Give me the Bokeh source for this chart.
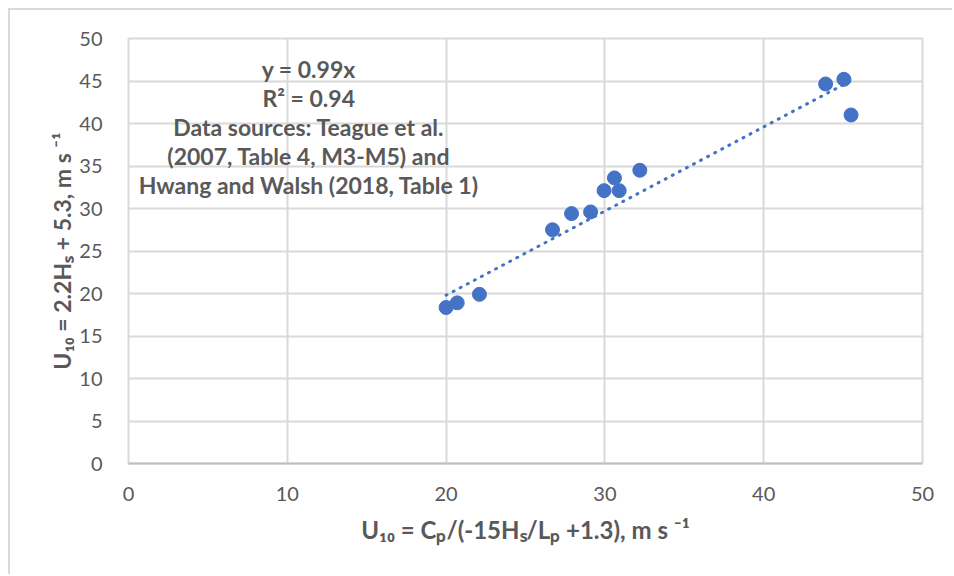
from bokeh.plotting import figure
from bokeh.models import Range1d, FixedTicker, ColumnDataSource
from bokeh.core.properties import value
from bokeh.embed import file_html
from bokeh.resources import INLINE

# Data
x_wave = [20.0, 20.7, 22.1, 26.7, 27.9, 29.1, 29.95, 30.6, 30.9, 32.2, 43.9, 45.05, 45.5]
y_hs = [18.35, 18.9, 19.9, 27.5, 29.4, 29.6, 32.1, 33.6, 32.1, 34.5, 44.65, 45.2, 41.0]
trend_slope = 0.99
x_ticks = [0, 10, 20, 30, 40, 50]
y_ticks = [0, 5, 10, 15, 20, 25, 30, 35, 40, 45, 50]
note_lines = ["y = 0.99x", "R\u00b2 = 0.94", "Data sources: Teague et al.",
              "(2007, Table 4, M3-M5) and", "Hwang and Walsh (2018, Table 1)"]
x_title = "U\u2081\u2080 = C\u209a/(-15H\u209b/L\u209a +1.3), m s \u207b\u00b9"
y_title = "U\u2081\u2080 = 2.2H\u209b + 5.3, m s \u207b\u00b9"

BLUE = "#4472C4"
GREY_TXT = "#595959"
GRID = "#d9d9d9"
FONT = "Lato"

p = figure(width=944, height=566, output_backend="svg", toolbar_location=None,
           x_range=Range1d(0, 50), y_range=Range1d(0, 50),
           min_border_left=118, min_border_right=32, min_border_top=28, min_border_bottom=113)
p.margin = (8, 0, 0, 8)
p.styles = {"border-left": "2px solid #d9d9d9", "border-top": "2px solid #d9d9d9"}
p.background_fill_color = "white"
p.border_fill_color = "white"
p.outline_line_color = GRID
p.outline_line_width = 2

for g in (p.xgrid, p.ygrid):
    g.grid_line_color = GRID
    g.grid_line_width = 2
p.xaxis.ticker = FixedTicker(ticks=x_ticks)
p.yaxis.ticker = FixedTicker(ticks=y_ticks)
p.xgrid.ticker = FixedTicker(ticks=x_ticks)
p.ygrid.ticker = FixedTicker(ticks=y_ticks)

for ax in (p.xaxis, p.yaxis):
    ax.axis_line_color = None
    ax.major_tick_line_color = None
    ax.minor_tick_line_color = None
    ax.major_label_text_font = FONT
    ax.major_label_text_font_size = "20px"
    ax.major_label_text_color = GREY_TXT
    ax.axis_label_text_font = FONT
    ax.axis_label_text_font_style = "bold"
    ax.axis_label_text_color = GREY_TXT
p.xaxis.axis_label_text_font_size = "24px"
p.yaxis.axis_label_text_font_size = "23px"
p.xaxis.axis_line_color = "#bfbfbf"
p.xaxis.axis_line_width = 2
p.xaxis.major_label_standoff = 17
p.yaxis.major_label_standoff = 20
p.xaxis.axis_label = x_title
p.yaxis.axis_label = y_title
p.xaxis.axis_label_standoff = 11
p.yaxis.axis_label_standoff = 0

# Trendline through origin over the data's x range
tx = [min(x_wave), max(x_wave)]
ty = [trend_slope * v for v in tx]
p.line(tx, ty, line_color=BLUE, line_width=3, line_dash="1 7", line_cap="round")

p.scatter(x_wave, y_hs, size=14, fill_color=BLUE, line_color=BLUE)

# annotation text
note_x = 11.35
note_top = 46.4
note_step = 3.4
src = ColumnDataSource(dict(x=[note_x] * len(note_lines),
                            y=[note_top - i * note_step for i in range(len(note_lines))],
                            t=note_lines))
p.text(x="x", y="y", text="t", source=src, text_align="center", text_baseline="middle",
       text_font=value(FONT), text_font_size="23px", text_font_style="bold",
       text_color=GREY_TXT)

open("out.html", "w").write(file_html(p, INLINE))
